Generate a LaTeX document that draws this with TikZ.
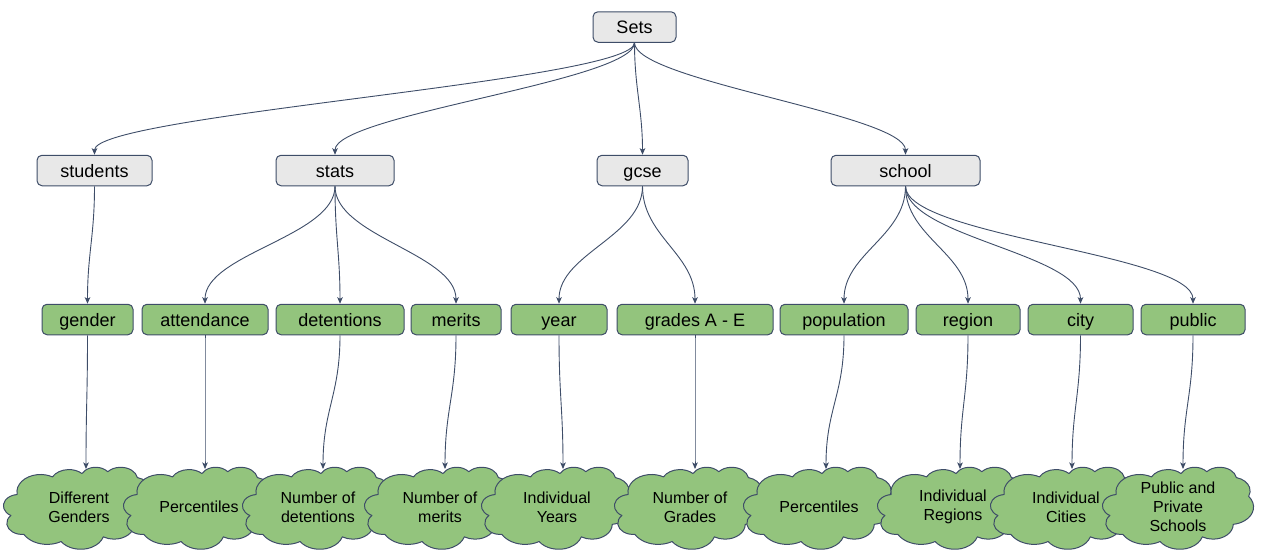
\documentclass[tikz,border=0pt]{standalone}
\usepackage{fontspec}
\setmainfont{Liberation Sans}
\usetikzlibrary{arrows.meta}
\definecolor{edgec}{HTML}{3E4D68}
\definecolor{grayfill}{HTML}{E8E8E8}
\definecolor{greenfill}{HTML}{93C47D}
% OOXML-style arc: x radius, y radius, start angle (visual), sweep
\newcommand\oarc[4]{arc[x radius=#1, y radius=#2,
  start angle={atan2((#1)*sin(#3),(#2)*cos(#3))},
  delta angle={((atan2((#1)*sin((#3)+(#4)),(#2)*cos((#3)+(#4)))-atan2((#1)*sin(#3),(#2)*cos(#3))) + 360*round(((#4)-(atan2((#1)*sin((#3)+(#4)),(#2)*cos((#3)+(#4)))-atan2((#1)*sin(#3),(#2)*cos(#3))))/360))}]}
\newcommand\cloudshape[2]{%
  \begin{scope}[shift={(#1,#2)}, x=0.34954pt, y=-0.18981pt]
  \draw[cloudline] (39,143.7)
    \oarc{67.53}{91.90}{-190.4875}{123.7805}
    \oarc{53.33}{72.67}{-144.1024}{89.9452}
    \oarc{43.65}{59.45}{-145.8079}{99.7230}
    \oarc{48.57}{65.95}{-130.9861}{117.2417}
    \oarc{53.33}{72.73}{-78.7089}{109.0269}
    \oarc{67.75}{92.20}{-46.2673}{130.2690}
    \oarc{57.85}{78.67}{0.6250}{114.0333}
    \oarc{67.52}{92.15}{22.4516}{115.1726}
    \oarc{77.20}{105.43}{66.2426}{75.7110}
    \oarc{43.60}{59.18}{-274.9421}{146.7356}
    \oarc{43.45}{59.45}{-246.8285}{152.5189}
    -- cycle;
  \end{scope}}
\begin{document}
\begin{tikzpicture}[x=1pt,y=-1pt,
  box/.style={draw=edgec, line width=1pt, rounded corners=5pt, minimum height=30.5pt, inner sep=0pt, text height=13pt, text depth=0pt, font=\fontsize{18}{22}\selectfont},
  graybox/.style={box, fill=grayfill},
  greenbox/.style={box, fill=greenfill},
  cloudline/.style={draw=edgec, line width=1pt, fill=greenfill, line join=round},
  cloudtext/.style={inner sep=0pt, align=center, font=\fontsize{16}{19}\selectfont},
  conn/.style={draw=edgec, line width=0.9pt, -{Stealth[length=6.5pt,width=5.5pt,inset=1.5pt]}}
]
\useasboundingbox (0,0) rectangle (1271,557);

% level 1 and 2
\node[graybox, minimum width=83pt] (sets) at (634.5,27) {Sets};
\node[graybox, minimum width=115pt] (students) at (94.5,170.5) {students};
\node[graybox, minimum width=118pt] (stats) at (335,170.5) {stats};
\node[graybox, minimum width=91pt] (gcse) at (642.5,170.5) {gcse};
\node[graybox, minimum width=149pt] (school) at (905.5,170.5) {school};

% level 3
\node[greenbox, minimum width=91pt] (gender) at (87.5,319.5) {gender};
\node[greenbox, minimum width=126pt] (attendance) at (205,319.5) {attendance};
\node[greenbox, minimum width=128pt] (detentions) at (340,319.5) {detentions};
\node[greenbox, minimum width=90pt] (merits) at (456,319.5) {merits};
\node[greenbox, minimum width=96pt] (year) at (559,319.5) {year};
\node[greenbox, minimum width=156pt] (grades) at (695,319.5) {grades A - E};
\node[greenbox, minimum width=128pt] (population) at (844,319.5) {population};
\node[greenbox, minimum width=104pt] (region) at (968,319.5) {region};
\node[greenbox, minimum width=105pt] (city) at (1080.5,319.5) {city};
\node[greenbox, minimum width=104pt] (public) at (1193,319.5) {public};

% clouds (drawn left to right so each overlaps the previous one)
\cloudshape{3.5}{467}
\node[cloudtext] (c1) at (79,507) {Different\\Genders};
\cloudshape{123.5}{467}
\node[cloudtext] (c2) at (199,507) {Percentiles};
\cloudshape{242.5}{467}
\node[cloudtext] (c3) at (318,507) {Number of\\detentions};
\cloudshape{364.5}{467}
\node[cloudtext] (c4) at (440,507) {Number of\\merits};
\cloudshape{481.5}{467}
\node[cloudtext] (c5) at (557,507) {Individual\\Years};
\cloudshape{614.5}{467}
\node[cloudtext] (c6) at (690,507) {Number of\\Grades};
\cloudshape{743.5}{467}
\node[cloudtext] (c7) at (819,507) {Percentiles};
\cloudshape{877.5}{467}
\node[cloudtext] (c8) at (953,507) {Individual\\Regions};
\cloudshape{990.5}{467}
\node[cloudtext] (c9) at (1066,507) {Individual\\Cities};
\cloudshape{1102.5}{467}
\node[cloudtext] (c10) at (1178,507) {Public and\\Private\\Schools};

% arrow tips on clouds
\coordinate (t1) at (86,469);
\coordinate (t2) at (205,469);
\coordinate (t3) at (323,469);
\coordinate (t4) at (445,469);
\coordinate (t5) at (563,469);
\coordinate (t6) at (695,469);
\coordinate (t7) at (826,469);
\coordinate (t8) at (960,469);
\coordinate (t9) at (1072,469);
\coordinate (t10) at (1183,469);

% Sets -> level 2
\draw[conn] (sets.south) .. controls +(0,38) and +(0,-40) .. (students.north);
\draw[conn] (sets.south) .. controls +(0,38) and +(0,-40) .. (stats.north);
\draw[conn] (sets.south) .. controls +(0,45) and +(0,-45) .. (gcse.north);
\draw[conn] (sets.south) .. controls +(0,38) and +(0,-40) .. (school.north);

% level 2 -> level 3
\draw[conn] (students.south) .. controls +(0,50) and +(0,-50) .. (gender.north);
\draw[conn] (stats.south) .. controls +(0,50) and +(0,-50) .. (attendance.north);
\draw[conn] (stats.south) .. controls +(0,50) and +(0,-50) .. (detentions.north);
\draw[conn] (stats.south) .. controls +(0,50) and +(0,-50) .. (merits.north);
\draw[conn] (gcse.south) .. controls +(0,50) and +(0,-50) .. (year.north);
\draw[conn] (gcse.south) .. controls +(0,50) and +(0,-50) .. (grades.north);
\draw[conn] (school.south) .. controls +(0,50) and +(0,-50) .. (population.north);
\draw[conn] (school.south) .. controls +(0,50) and +(0,-50) .. (region.north);
\draw[conn] (school.south) .. controls +(0,50) and +(0,-50) .. (city.north);
\draw[conn] (school.south) .. controls +(0,50) and +(0,-50) .. (public.north);

% level 3 -> clouds
\draw[conn] (gender.south) .. controls +(0,60) and +(0,-60) .. (t1);
\draw[conn] (attendance.south) .. controls +(0,60) and +(0,-60) .. (t2);
\draw[conn] (detentions.south) .. controls +(0,60) and +(0,-60) .. (t3);
\draw[conn] (merits.south) .. controls +(0,60) and +(0,-60) .. (t4);
\draw[conn] (year.south) .. controls +(0,60) and +(0,-60) .. (t5);
\draw[conn] (grades.south) .. controls +(0,60) and +(0,-60) .. (t6);
\draw[conn] (population.south) .. controls +(0,60) and +(0,-60) .. (t7);
\draw[conn] (region.south) .. controls +(0,60) and +(0,-60) .. (t8);
\draw[conn] (city.south) .. controls +(0,60) and +(0,-60) .. (t9);
\draw[conn] (public.south) .. controls +(0,60) and +(0,-60) .. (t10);
\end{tikzpicture}
\end{document}
